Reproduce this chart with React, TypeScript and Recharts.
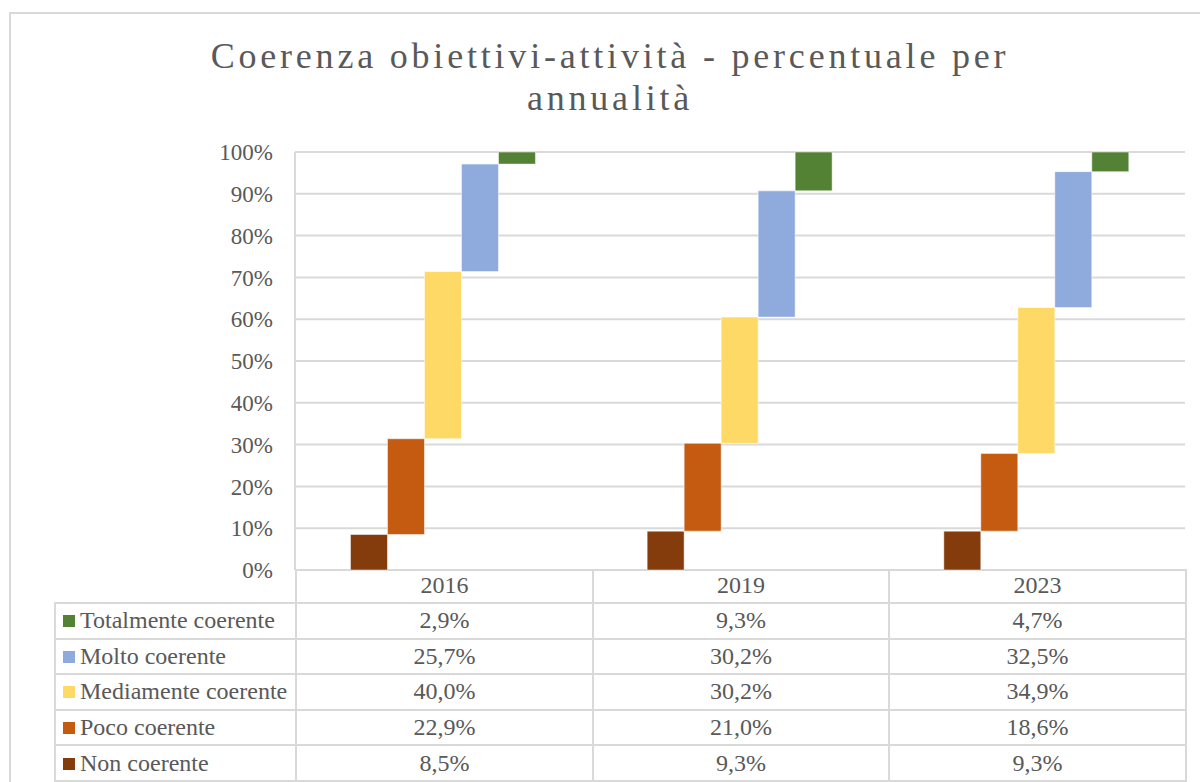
import { BarChart, Bar, XAxis, YAxis, CartesianGrid } from "recharts";

const YEARS = ["2016", "2019", "2023"];

// percentage per year, one list per series (bottom to top of the stack)
const NON_COERENTE = [8.5, 9.3, 9.3];
const POCO_COERENTE = [22.9, 21.0, 18.6];
const MEDIAMENTE_COERENTE = [40.0, 30.2, 34.9];
const MOLTO_COERENTE = [25.7, 30.2, 32.5];
const TOTALMENTE_COERENTE = [2.9, 9.3, 4.7];

const Y_TICKS = [0, 10, 20, 30, 40, 50, 60, 70, 80, 90, 100];

const SERIES = [
  { key: "non", name: "Non coerente", values: NON_COERENTE, color: "#843C0C" },
  { key: "poco", name: "Poco coerente", values: POCO_COERENTE, color: "#C55A11" },
  { key: "medi", name: "Mediamente coerente", values: MEDIAMENTE_COERENTE, color: "#FFD966" },
  { key: "molto", name: "Molto coerente", values: MOLTO_COERENTE, color: "#8FAADC" },
  { key: "tot", name: "Totalmente coerente", values: TOTALMENTE_COERENTE, color: "#548235" },
];

// each bar floats from the running total of the previous series
const data = YEARS.map((year, i) => {
  const row: Record<string, any> = { year };
  let acc = 0;
  SERIES.forEach((s) => {
    row[s.key] = [acc, acc + s.values[i]];
    acc += s.values[i];
  });
  return row;
});

const fmt = (v: number) => v.toFixed(1).replace(".", ",") + "%";

const TEXT = "#595959";
const LINE = "#d9d9d9";
const FONT = "Liberation Serif";

export default function App() {
  const tableRows = [...SERIES].reverse();
  const cell = { padding: 0, textAlign: "center" as const, border: `2px solid ${LINE}` };
  return (
    <div
      style={{
        position: "absolute",
        left: 0,
        top: 0,
        width: 1200,
        height: 782,
        overflow: "hidden",
        background: "#fff",
        fontFamily: FONT,
      }}
    >
      {/* outer frame */}
      <div
        style={{
          position: "absolute",
          left: 9,
          top: 12,
          width: 1200,
          height: 800,
          border: `2px solid ${LINE}`,
        }}
      />

      {/* title */}
      <div
        style={{
          position: "absolute",
          left: 4,
          top: 35,
          width: 1212,
          textAlign: "center",
          fontSize: 36,
          lineHeight: "42px",
          letterSpacing: 3.8,
          color: TEXT,
        }}
      >
        Coerenza obiettivi-attività - percentuale per
        <br />
        annualità
      </div>

      <div style={{ position: "absolute", left: 0, top: 0 }}>
        <BarChart
          width={1200}
          height={600}
          data={data}
          margin={{ top: 152, right: 15, left: 235, bottom: 30 }}
          barCategoryGap="18.7%"
          barGap={0}
        >
          <CartesianGrid vertical={false} stroke={LINE} strokeWidth={2} />
          <XAxis dataKey="year" hide />
          <YAxis
            width={60}
            domain={[0, 100]}
            ticks={Y_TICKS}
            tickFormatter={(v) => `${v}%`}
            tickSize={0}
            tickMargin={22}
            axisLine={{ stroke: LINE, strokeWidth: 2 }}
            tick={{ fill: TEXT, fontSize: 23, fontFamily: FONT }}
          />
          {SERIES.map((s) => (
            <Bar
              key={s.key}
              dataKey={s.key}
              name={s.name}
              fill={s.color}
              stroke="#ffffff"
              strokeOpacity={0.5}
              isAnimationActive={false}
            />
          ))}
        </BarChart>
      </div>

      {/* data table */}
      <table
        style={{
          position: "absolute",
          left: 54,
          top: 569,
          borderCollapse: "collapse",
          tableLayout: "fixed",
          fontSize: 24,
          color: TEXT,
          fontFamily: FONT,
        }}
      >
        <colgroup>
          <col style={{ width: 241 }} />
          <col style={{ width: 297 }} />
          <col style={{ width: 296 }} />
          <col style={{ width: 297 }} />
        </colgroup>
        <tbody>
          <tr style={{ height: 34 }}>
            <td style={{ padding: 0, borderRight: `2px solid ${LINE}`, borderBottom: `2px solid ${LINE}` }} />
            {YEARS.map((y) => (
              <td key={y} style={{ ...cell, borderTop: "none" }}>
                {y}
              </td>
            ))}
          </tr>
          {tableRows.map((s) => (
            <tr key={s.key} style={{ height: 35.6 }}>
              <td
                style={{
                  padding: "0 0 0 7px",
                  border: `2px solid ${LINE}`,
                  whiteSpace: "nowrap",
                  overflow: "hidden",
                }}
              >
                <span
                  style={{
                    display: "inline-block",
                    width: 12,
                    height: 12,
                    background: s.color,
                    marginRight: 5,
                    verticalAlign: "1px",
                  }}
                />
                {s.name}
              </td>
              {s.values.map((v, i) => (
                <td key={i} style={cell}>
                  {fmt(v)}
                </td>
              ))}
            </tr>
          ))}
        </tbody>
      </table>
    </div>
  );
}
